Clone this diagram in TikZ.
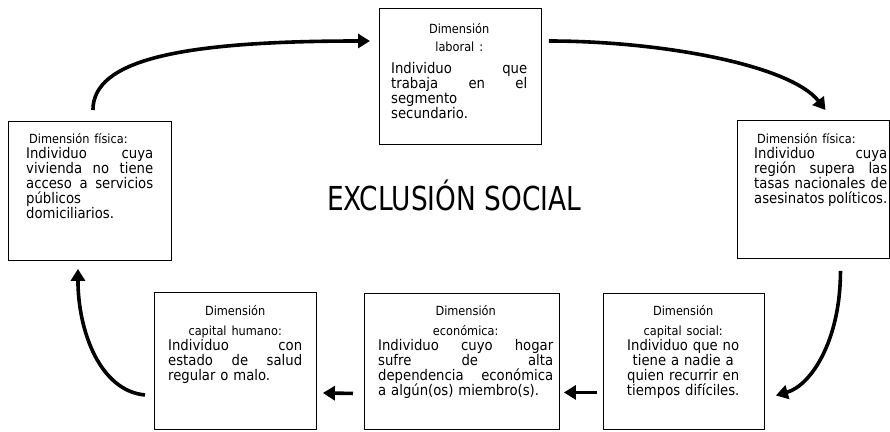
\documentclass[tikz,border=0pt]{standalone}
\usepackage{fontspec}
\setmainfont{DejaVu Sans}[FakeStretch=0.9]
\newfontfamily\titulo{DejaVu Sans}[FakeStretch=0.8]
\usetikzlibrary{arrows.meta}
\newcommand\cuerpo{\fontsize{14.7}{15}\selectfont}
\newcommand\encab{\fontsize{12.6}{15}\selectfont}
\newcommand\centrada[1]{\makebox[\linewidth]{#1}}

\begin{document}
\begin{tikzpicture}[x=1pt,y=-1pt,
  caja/.style={draw,line width=0.9pt,inner sep=0pt,anchor=north west},
  texto/.style={font=\cuerpo,inner sep=0pt,anchor=base west,align=left},
  flecha/.style={line width=3.6pt,-{Triangle[length=12pt,width=14pt]}}]
 \useasboundingbox (0,0) rectangle (890,431);
 \node[caja,minimum width=163pt,minimum height=139pt] (fis1) at (8,121) {};
 \node[caja,minimum width=162pt,minimum height=136pt] (lab) at (379,8) {};
 \node[caja,minimum width=152pt,minimum height=138pt] (fis2) at (737,120) {};
 \node[caja,minimum width=161pt,minimum height=136pt] (soc) at (603,293) {};
 \node[caja,minimum width=195pt,minimum height=136pt] (eco) at (364,293) {};
 \node[caja,minimum width=162pt,minimum height=137pt] (hum) at (154,292) {};

 \node[texto,text width=136pt] (tlab) at (391,33) {\centrada{\encab Dimensión}\\[3pt]
  \centrada{\encab laboral :}\\[7pt]
  Individuo\hfill que\\
  trabaja\hfill en\hfill el\\
  segmento\\
  secundario.};
 \node[texto,text width=127pt] (tfis1) at (26,143) {\hspace{3pt}{\encab Dimensión física:}\\
  Individuo\hfill cuya\\
  vivienda\hfill no\hfill tiene\\
  acceso\hfill a\hfill servicios\\
  públicos\\
  domiciliarios.};
 \node[texto,text width=133pt] (tfis2) at (754,143) {\hspace{3pt}{\encab Dimensión física:}\\
  Individuo\hfill cuya\\
  región\hfill supera\hfill las\\
  tasas\hfill nacionales\hfill de\\
  asesinatos\hfill políticos.};
 \node[texto,text width=134pt] (thum) at (168,315) {\centrada{\encab Dimensión}\\[5pt]
  \centrada{\encab capital humano:}\\
  Individuo\hfill con\\
  estado\hfill de\hfill salud\\
  regular o malo.};
 \node[texto,text width=175pt] (teco) at (378,315) {\centrada{\encab Dimensión}\\[5pt]
  \centrada{\encab económica:}\\
  Individuo\hfill cuyo\hfill hogar\\
  sufre\hfill de\hfill alta\\
  dependencia\hfill económica\\
  a algún(os) miembro(s).};
 \node[texto,text width=150pt,align=center] (tsoc) at (608,315) {{\encab Dimensión}\\[5pt]
  {\encab capital social:}\\
  Individuo que no\\
  tiene a nadie a\\
  quien recurrir en\\
  tiempos difíciles.};

 \node[font=\titulo\fontsize{33}{36}\selectfont,inner sep=0pt,anchor=base] (excl) at (454,210) {EXCLUSIÓN SOCIAL};

 \draw[flecha] ([xshift=3pt,yshift=11pt]fis1.north) .. controls +(0,-50) and +(-190,0) .. ([xshift=-9pt,yshift=-33pt]lab.north west);
 \draw[flecha] ([xshift=7pt,yshift=-33pt]lab.north east) .. controls +(112,0) and +(-35,-45) .. ([xshift=12pt,yshift=10pt]fis2.north);
 \draw[flecha] ([xshift=27pt,yshift=-12pt]fis2.south) .. controls +(0,70) and +(35,-10) .. ([xshift=11pt,yshift=-34pt]soc.east);
 \draw[flecha] ([xshift=-6pt,yshift=-31pt]soc.west) -- ([xshift=4pt,yshift=-31pt]eco.east);
 \draw[flecha] ([xshift=-11pt,yshift=-32pt]eco.west) -- ([xshift=6pt,yshift=-32pt]hum.east);
 \draw[flecha] ([xshift=-9pt,yshift=-34pt]hum.west) .. controls +(-45,-4) and +(0,62) .. ([xshift=-12pt,yshift=-8pt]fis1.south);
\end{tikzpicture}
\end{document}
